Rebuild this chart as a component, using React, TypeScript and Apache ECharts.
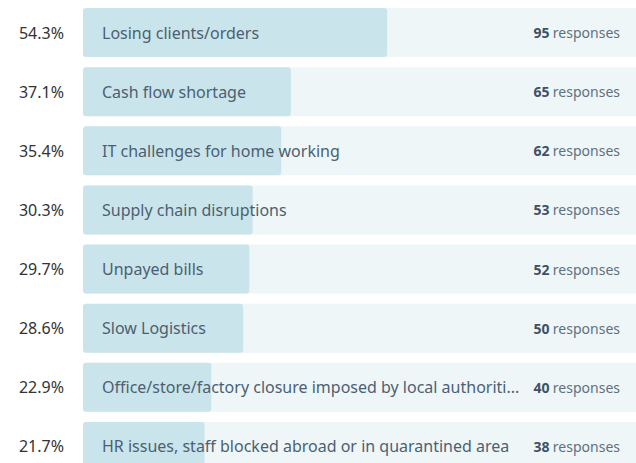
import React, { useEffect, useRef } from "react";
import * as echarts from "echarts";

const categories = [
  "Losing clients/orders",
  "Cash flow shortage",
  "IT challenges for home working",
  "Supply chain disruptions",
  "Unpayed bills",
  "Slow Logistics",
  "Office/store/factory closure imposed by local authorities",
  "HR issues, staff blocked abroad or in quarantined area",
];
const percentages = [54.3, 37.1, 35.4, 30.3, 29.7, 28.6, 22.9, 21.7];
const responses = [95, 65, 62, 53, 52, 50, 40, 38];

const FONT = "'Noto Sans', 'Open Sans', sans-serif";
const FULL = 100;

export default function App() {
  const ref = useRef<HTMLDivElement>(null);
  useEffect(() => {
    document.body.style.margin = "0";
    const chart = echarts.init(ref.current!, undefined, { renderer: "svg" });
    chart.setOption({
      animation: false,
      grid: { left: 83, width: 560, top: 3, height: 473, outerBoundsMode: "none", containLabel: false },
      xAxis: { type: "value", min: 0, max: FULL, show: false },
      yAxis: {
        type: "category",
        data: categories,
        inverse: true,
        axisLine: { show: false },
        axisTick: { show: false },
        axisLabel: {
          margin: 19,
          fontFamily: FONT,
          fontSize: 16,
          color: "#333333",
          formatter: (_v: string, i: number) => percentages[i].toFixed(1) + "%",
        },
      },
      series: [
        {
          type: "bar",
          stack: "s",
          data: percentages,
          barWidth: 49,
          showBackground: true,
          backgroundStyle: { color: "#eef6f8", borderRadius: 3 },
          itemStyle: { color: "#c9e4ea", borderRadius: 3 },
          label: {
            show: true,
            position: "insideLeft",
            distance: 19,
            formatter: (p: any) => categories[p.dataIndex],
            fontFamily: FONT,
            fontSize: 16,
            color: "#4d5f72",
            width: 420,
            overflow: "truncate",
            ellipsis: "...",
          },
          z: 2,
        },
        {
          type: "bar",
          stack: "s",
          data: percentages.map((v) => FULL - v),
          barWidth: 49,
          itemStyle: { color: "rgba(0,0,0,0)" },
          label: {
            show: true,
            position: "insideRight",
            distance: 23,
            formatter: (p: any) => `{b|${responses[p.dataIndex]}} {n|responses}`,
            rich: {
              b: { fontFamily: FONT, fontSize: 14, fontWeight: "bold", color: "#3e5166" },
              n: { fontFamily: FONT, fontSize: 14, color: "#5f7080" },
            },
          },
          z: 3,
        },
      ],
    });
    return () => chart.dispose();
  }, []);
  return <div ref={ref} style={{ width: 636, height: 463 }} />;
}
